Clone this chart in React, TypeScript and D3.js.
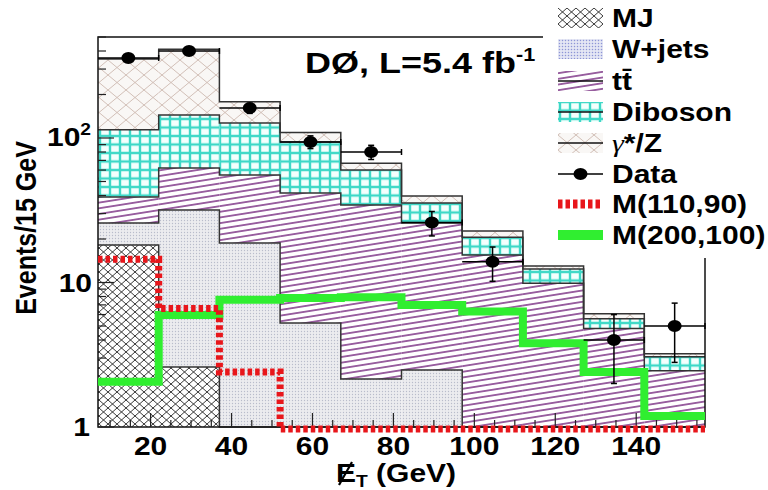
import * as d3 from 'd3';

// binning: 15 GeV bins, lower edges
const binStarts = [7, 22, 37, 52, 67, 82, 97, 112, 127, 142];
const binWidth = 15;

// background components, stacked bottom -> top
const mj = [18.2, 2.6, 0.4, 0.2, 0.1, 0.1, 0.05, 0.05, 0.05, 0.05];
const wjets = [7.6, 29.1, 18.4, 5.05, 2.05, 2.38, 0.75, 0.55, 0.35, 0.25];
const ttbar = [13.2, 30.3, 36.7, 36.4, 32.2, 23.3, 14.7, 9.3, 4.4, 2.15];
const diboson = [75, 82, 71.5, 52.2, 25.6, 9.7, 5.1, 2.5, 0.82, 0.61];
const gammaZ = [238, 267, 51, 15.2, 7, 4.2, 2.1, 0.6, 0.46, 0.15];

// data (bin 8 marker not visible in the original)
const dataVals = [358, 400, 161, 94, 80, 26, 13.9, null, 4.0, 5.0];
const dataErr = [19, 20, 13, 9.5, 9, 5, 3.7, null, 2.0, 2.2];

// signal points
const m110 = [14.5, 6.6, 2.4, 0.97, 0.97, 0.97, 0.97, 0.97, 0.97, 0.97];
const m200 = [2.06, 5.96, 7.6, 7.8, 7.9, 7.0, 6.3, 3.8, 2.4, 1.19];

const xTickLabels = [20, 40, 60, 80, 100, 120, 140];

const FONT = '"Liberation Sans", Arial, Helvetica, sans-serif';
const SX = 1.2; // original picture is stretched horizontally

const layerKeys = ['mj', 'wjets', 'ttbar', 'diboson', 'gammaZ'];
const layerFill: Record<string, string> = {
  mj: 'url(#pMJ)',
  wjets: 'url(#pW)',
  ttbar: 'url(#pTT)',
  diboson: 'url(#pVV)',
  gammaZ: 'url(#pZ)',
};

const T = ({ x, y, size, anchor = 'start', children }: any) => (
  <text
    transform={`translate(${x},${y}) scale(${SX},1)`}
    fontSize={size}
    fontWeight="bold"
    fontFamily={FONT}
    textAnchor={anchor}
    fill="#000"
  >
    {children}
  </text>
);

export default function App() {
  const x = d3.scaleLinear().domain([7, 157]).range([98, 705]);
  const y = d3.scaleLog().domain([1, 500]).range([427, 37]);
  const yc = (v: number) => y(Math.max(v, 1));
  const xEnd = binStarts[binStarts.length - 1] + binWidth;

  const rows = binStarts.map((b, i) => ({
    mj: mj[i],
    wjets: wjets[i],
    ttbar: ttbar[i],
    diboson: diboson[i],
    gammaZ: gammaZ[i],
  }));
  const stacked = d3.stack<any>().keys(layerKeys)(rows);

  const step = d3
    .line<[number, number]>()
    .x((d) => d[0])
    .y((d) => d[1])
    .curve(d3.curveStepAfter);

  const stepPts = (vals: number[], f: (v: number) => number) => {
    const pts: [number, number][] = binStarts.map((b, i) => [x(b), f(vals[i])]);
    pts.push([x(xEnd), f(vals[vals.length - 1])]);
    return pts;
  };

  const yTicks = y.ticks();
  const isMajor = (v: number) => Math.abs(Math.log10(v) - Math.round(Math.log10(v))) < 1e-6;
  const xMinor = d3.range(10, 157, 5);

  const legendRows = [
    { label: 'MJ', kind: 'fill', fill: 'url(#pMJ)', line: false },
    { label: 'W+jets', kind: 'fill', fill: 'url(#pWL)', line: false },
    { label: 'tt\u0304', kind: 'fill', fill: 'url(#pTT)', line: true },
    { label: 'Diboson', kind: 'fill', fill: 'url(#pVV)', line: true },
    { label: 'gz', kind: 'fill', fill: 'url(#pZ)', line: true },
    { label: 'Data', kind: 'data' },
    { label: 'M(110,90)', kind: 'red' },
    { label: 'M(200,100)', kind: 'green' },
  ];
  const legendY = [18, 49, 81, 112, 143, 174, 204, 235];

  return (
    <svg width={768} height={490} style={{ position: 'fixed', left: 0, top: 0, background: '#fff' }}>
      <defs>
        <pattern id="pMJ" patternUnits="userSpaceOnUse" width={9} height={8}>
          <rect width={9} height={8} fill="#fff" />
          <path d="M0,0L9,8M9,0L0,8" stroke="#222" strokeWidth={0.9} />
        </pattern>
        <pattern id="pZ" patternUnits="userSpaceOnUse" width={18} height={15}>
          <rect width={18} height={15} fill="#f9f7f5" />
          <path d="M0,0L18,15M18,0L0,15" stroke="#cdb9b0" strokeWidth={0.9} />
        </pattern>
        <pattern id="pW" patternUnits="userSpaceOnUse" width={3} height={3}>
          <rect width={3} height={3} fill="#ececef" />
          <circle cx={1.5} cy={1.5} r={0.65} fill="#b9bccb" />
        </pattern>
        <pattern id="pWL" patternUnits="userSpaceOnUse" width={3} height={3}>
          <rect width={3} height={3} fill="#e4e6f4" />
          <circle cx={1.5} cy={1.5} r={0.75} fill="#8d95d6" />
        </pattern>
        <pattern id="pTT" patternUnits="userSpaceOnUse" width={12} height={5.6} patternTransform="rotate(-9)">
          <rect width={12} height={5.6} fill="#fff" />
          <line x1={0} x2={12} y1={2.8} y2={2.8} stroke="#74277e" strokeWidth={1.4} />
        </pattern>
        <pattern id="pVV" patternUnits="userSpaceOnUse" width={10} height={8.5}>
          <rect width={10} height={8.5} fill="#3ed8c7" />
          <rect x={1.2} y={1.2} width={7.6} height={6.1} fill="#f4fffd" />
        </pattern>
      </defs>

      {/* stacked background fills */}
      {stacked.map((s: any) => (
        <g key={s.key}>
          {s.map((d: any, i: number) => (
            <rect
              key={i}
              x={x(binStarts[i])}
              y={yc(d[1])}
              width={x(binStarts[i] + binWidth) - x(binStarts[i])}
              height={yc(d[0]) - yc(d[1])}
              fill={layerFill[s.key]}
            />
          ))}
        </g>
      ))}
      {/* stack outlines */}
      {stacked.map((s: any) => (
        <path
          key={'o' + s.key}
          d={step(stepPts(s.map((d: any) => d[1]), yc)) || ''}
          fill="none"
          stroke="#333"
          strokeWidth={1.5}
        />
      ))}

      {/* frame and ticks */}
      <rect x={98} y={37} width={607} height={390} fill="none" stroke="#111" strokeWidth={1.5} />
      {yTicks.map((v) => (
        <line
          key={'yt' + v}
          x1={98}
          x2={98 + (isMajor(v) ? 16 : 8)}
          y1={y(v)}
          y2={y(v)}
          stroke="#222"
          strokeWidth={1.2}
        />
      ))}
      {xMinor.map((v) => (
        <line
          key={'xt' + v}
          x1={x(v)}
          x2={x(v)}
          y1={427}
          y2={427 - (v % 20 === 0 ? 14 : 7)}
          stroke="#222"
          strokeWidth={1.2}
        />
      ))}

      {/* signal curves */}
      <path
        d={step(stepPts(m200, y)) || ''}
        fill="none"
        stroke="#30ee30"
        strokeWidth={8}
      />
      <path
        d={step(stepPts(m110, y)) || ''}
        fill="none"
        stroke="#e8161b"
        strokeWidth={7}
        strokeDasharray="4.5,3"
      />

      {/* data */}
      {dataVals.map((v, i) => {
        if (v == null) return null;
        const e = dataErr[i] as number;
        const cx = x(binStarts[i] + binWidth / 2);
        const cy = y(v);
        return (
          <g key={'d' + i} stroke="#000" strokeWidth={1.5}>
            <line x1={x(binStarts[i])} x2={x(binStarts[i] + binWidth)} y1={cy} y2={cy} />
            <line x1={x(binStarts[i] + binWidth)} x2={x(binStarts[i] + binWidth)} y1={cy - 3} y2={cy + 3} />
            <line x1={cx} x2={cx} y1={y(v + e)} y2={y(v - e)} />
            <line x1={cx - 3} x2={cx + 3} y1={y(v + e)} y2={y(v + e)} />
            <line x1={cx - 3} x2={cx + 3} y1={y(v - e)} y2={y(v - e)} />
            <ellipse cx={cx} cy={cy} rx={7} ry={6} fill="#000" stroke="none" />
          </g>
        );
      })}

      {/* axis labels */}
      <T x={90} y={y(1) + 9} size={25} anchor="end">1</T>
      <T x={92} y={y(10) + 9} size={25} anchor="end">10</T>
      <T x={91} y={y(100) + 8} size={25} anchor="end">
        10<tspan fontSize={16} dy={-11}>2</tspan>
      </T>
      {xTickLabels.map((v) => (
        <T key={'xl' + v} x={x(v)} y={455} size={25} anchor="middle">
          {v}
        </T>
      ))}
      <text
        transform={`translate(36,228) scale(${SX},1) rotate(-90)`}
        fontSize={25}
        fontWeight="bold"
        fontFamily={FONT}
        textAnchor="middle"
      >
        Events/15 GeV
      </text>
      <T x={336} y={482} size={25}>
        E<tspan fontSize={16} dy={5}>T</tspan>
        <tspan dy={-5}> (GeV)</tspan>
      </T>
      <line x1={339} y1={485} x2={352} y2={462} stroke="#000" strokeWidth={2.2} />

      <T x={305} y={73} size={30}>
        DØ, L=5.4 fb<tspan fontSize={18} dy={-12}>-1</tspan>
      </T>

      {/* legend */}
      <rect x={543} y={0} width={225} height={258} fill="#fff" />
      {legendRows.map((r: any, i) => {
        const c = legendY[i];
        let sym = null;
        if (r.kind === 'fill') {
          sym = (
            <g>
              <rect x={558} y={c - 10} width={45} height={20} fill={r.fill} />
              {r.line && <line x1={558} x2={603} y1={c} y2={c} stroke="#111" strokeWidth={1.5} />}
            </g>
          );
        } else if (r.kind === 'data') {
          sym = (
            <g>
              <line x1={558} x2={603} y1={c} y2={c} stroke="#000" strokeWidth={1.5} />
              <ellipse cx={580.5} cy={c} rx={7} ry={6} fill="#000" />
            </g>
          );
        } else if (r.kind === 'red') {
          sym = <line x1={558} x2={603} y1={c} y2={c} stroke="#e8161b" strokeWidth={9} strokeDasharray="4.5,3" />;
        } else {
          sym = <line x1={558} x2={603} y1={c} y2={c} stroke="#30ee30" strokeWidth={10} />;
        }
        return (
          <g key={'lg' + i}>
            {sym}
            {r.label === 'gz' ? (
              <T x={612} y={c + 9} size={25}>
                <tspan fontFamily='"Liberation Serif", "DejaVu Serif", serif' fontWeight="normal" fontStyle="italic">
                  γ
                </tspan>
                */Z
              </T>
            ) : (
              <T x={612} y={c + 9} size={25}>
                {r.label}
              </T>
            )}
          </g>
        );
      })}
    </svg>
  );
}
